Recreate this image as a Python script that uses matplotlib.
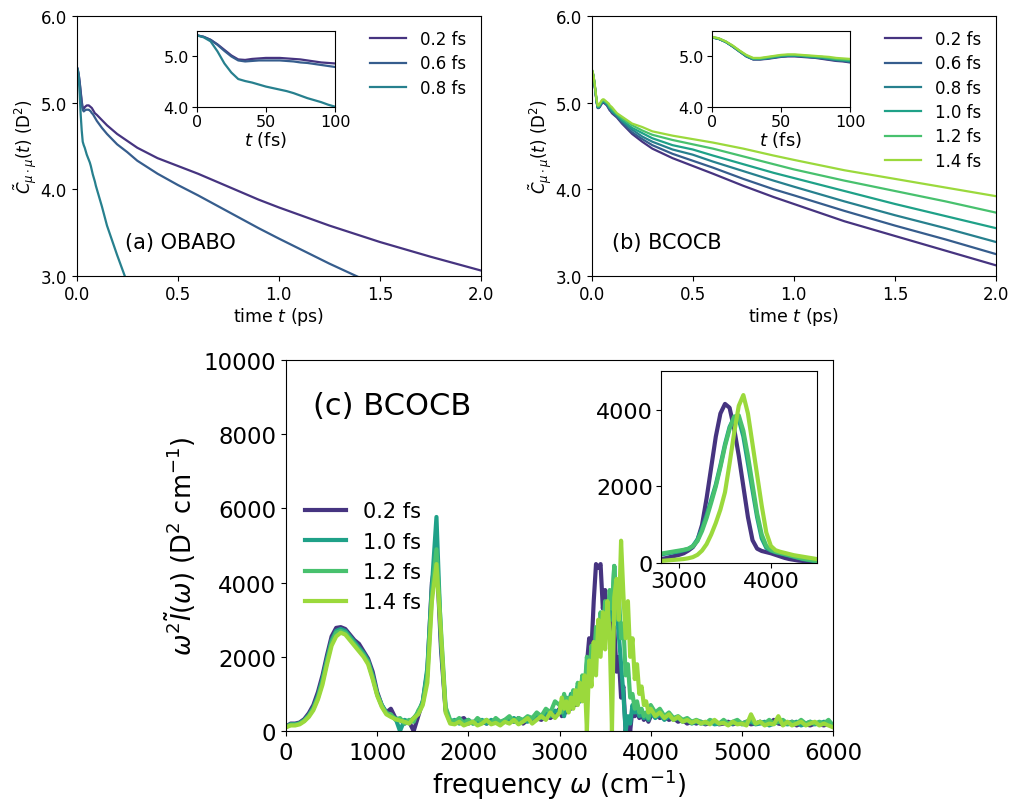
import matplotlib
matplotlib.use("Agg")
import matplotlib.pyplot as plt
import numpy as np

# time grid in fs (shared by main panels and insets)
t_fs = [0, 5, 10, 15, 20, 25, 30, 35, 40, 45, 50, 55, 60, 65, 70, 75, 80, 85, 90, 95, 100,
        125, 150, 200, 250, 300, 400, 500, 600, 750, 900, 1000, 1250, 1500, 1750, 2000]

# (a) OBABO
labels_a = ["0.2 fs", "0.6 fs", "0.8 fs"]
obabo_02 = [5.42, 5.39, 5.33, 5.24, 5.13, 5.02, 4.94, 4.93, 4.95, 4.96, 4.97, 4.97, 4.97,
            4.96, 4.95, 4.94, 4.92, 4.90, 4.88, 4.87, 4.86,
            4.80, 4.74, 4.64, 4.56, 4.48, 4.36, 4.27, 4.18, 4.03, 3.88, 3.79, 3.58, 3.39, 3.22, 3.06]
obabo_06 = [5.42, 5.39, 5.33, 5.23, 5.11, 5.00, 4.92, 4.90, 4.91, 4.92, 4.92, 4.92, 4.92,
            4.91, 4.90, 4.88, 4.87, 4.85, 4.83, 4.81, 4.79,
            4.71, 4.64, 4.52, 4.43, 4.33, 4.18, 4.05, 3.93, 3.74, 3.55, 3.43, 3.14, 2.87, 2.60, 2.35]
obabo_08 = [5.42, 5.38, 5.30, 5.10, 4.86, 4.68, 4.55, 4.51, 4.48, 4.44, 4.40, 4.37, 4.34,
            4.31, 4.27, 4.22, 4.17, 4.13, 4.09, 4.04, 4.00,
            3.80, 3.58, 3.24, 2.92, 2.60, 2.00, 1.50, 1.00, 0.50, 0.20, 0.10, 0.05, 0.02, 0.01, 0.0]

# (b) BCOCB
labels_b = ["0.2 fs", "0.6 fs", "0.8 fs", "1.0 fs", "1.2 fs", "1.4 fs"]
bcocb_02 = [5.38, 5.35, 5.29, 5.20, 5.10, 5.00, 4.94, 4.94, 4.95, 4.97, 4.99, 5.00, 5.00,
            4.99, 4.98, 4.97, 4.95, 4.93, 4.91, 4.90, 4.88,
            4.83, 4.76, 4.64, 4.55, 4.47, 4.36, 4.27, 4.18, 4.04, 3.91, 3.83, 3.63, 3.46, 3.29, 3.12]
bcocb_06 = [5.38, 5.35, 5.29, 5.20, 5.10, 5.00, 4.94, 4.94, 4.96, 4.98, 5.00, 5.01, 5.01,
            5.00, 4.99, 4.98, 4.96, 4.94, 4.92, 4.91, 4.89,
            4.84, 4.77, 4.66, 4.58, 4.51, 4.41, 4.33, 4.25, 4.12, 4.00, 3.93, 3.75, 3.58, 3.42, 3.25]
bcocb_08 = [5.38, 5.35, 5.29, 5.20, 5.10, 5.01, 4.95, 4.95, 4.96, 4.98, 5.00, 5.01, 5.01,
            5.01, 4.99, 4.98, 4.97, 4.95, 4.93, 4.92, 4.90,
            4.85, 4.79, 4.69, 4.61, 4.55, 4.46, 4.40, 4.32, 4.21, 4.10, 4.03, 3.86, 3.70, 3.55, 3.39]
bcocb_10 = [5.38, 5.35, 5.29, 5.21, 5.11, 5.01, 4.95, 4.95, 4.97, 4.99, 5.01, 5.02, 5.02,
            5.01, 5.00, 4.99, 4.98, 4.96, 4.94, 4.93, 4.91,
            4.86, 4.80, 4.71, 4.65, 4.59, 4.51, 4.46, 4.39, 4.29, 4.19, 4.13, 3.98, 3.83, 3.69, 3.55]
bcocb_12 = [5.39, 5.36, 5.30, 5.21, 5.11, 5.02, 4.96, 4.96, 4.98, 5.00, 5.02, 5.03, 5.03,
            5.02, 5.01, 5.00, 4.99, 4.97, 4.95, 4.94, 4.93,
            4.87, 4.82, 4.74, 4.68, 4.63, 4.57, 4.52, 4.47, 4.38, 4.29, 4.23, 4.10, 3.98, 3.86, 3.73]
bcocb_14 = [5.39, 5.36, 5.30, 5.22, 5.12, 5.03, 4.97, 4.97, 4.99, 5.01, 5.03, 5.04, 5.04,
            5.03, 5.02, 5.01, 5.00, 4.99, 4.97, 4.96, 4.95,
            4.88, 4.84, 4.76, 4.72, 4.67, 4.62, 4.58, 4.54, 4.47, 4.39, 4.34, 4.22, 4.12, 4.02, 3.92]

# (c) spectra: 0-3000 step 50, 3000-4000 step 25, 4000-6000 step 50
freq = np.concatenate([np.arange(0, 3000, 50), np.arange(3000, 4000, 25), np.arange(4000, 6001, 50)])
labels_c = ["0.2 fs", "1.0 fs", "1.2 fs", "1.4 fs"]
spec_02 = [120, 200, 200, 230, 320, 480, 700, 1050, 1500, 2050, 2550, 2780, 2800, 2750, 2600,
           2450, 2350, 2150, 1950, 1600, 1050, 700, 500, 600, 350, 300, 200, 250, 0, 400,
           800, 1600, 4000, 4800, 2200, 550, 250, 200, 300, 350, 200, 250, 200, 250, 200,
           250, 300, 200, 250, 300, 250, 350, 200, 300, 250, 350, 300, 400, 350, 450,
           600, 400, 700, 500, 800, 600, 900, 700, 1000, 800, 1300, 1100, 1800, 2500, 2200,
           3500, 4500, 4400, 4500, 3300, 3800, 2600, 3100, 2200, 2800, 1600, 2000, 900, 1200, 0,
           300, 0, 600, 400, 500, 350, 450, 300, 400, 250,
           400, 500, 350, 400, 300, 350, 250, 300, 200, 250, 200, 250, 180, 220, 250, 180,
           200, 250, 180, 220, 200, 250, 180, 200, 250, 180, 200, 300, 200, 180, 200, 250,
           150, 200, 180, 150, 200, 180, 150, 200, 120]
spec_10 = [110, 180, 180, 210, 290, 430, 630, 950, 1400, 1950, 2450, 2700, 2750, 2700, 2550,
           2400, 2250, 2100, 1900, 1500, 1000, 700, 500, 400, 350, 0, 300, 250, 350, 500,
           800, 1700, 3900, 5770, 2400, 600, 250, 300, 200, 250, 300, 200, 250, 300, 200,
           300, 250, 200, 300, 250, 350, 250, 300, 250, 350, 400, 350, 500, 400, 550,
           500, 800, 400, 900, 600, 1000, 700, 900, 1200, 800, 1400, 1000, 1600, 1300, 2100,
           1800, 2600, 2200, 3000, 2500, 3200, 2700, 3600, 3000, 4450, 3400, 2600, 1800, 1000, 0,
           400, 200, 700, 500, 600, 400, 500, 350, 450, 300,
           500, 350, 450, 300, 400, 300, 350, 250, 300, 200, 250, 200, 220, 250, 180, 200,
           250, 180, 200, 250, 180, 200, 250, 180, 200, 250, 150, 200, 250, 200, 180, 200,
           250, 150, 200, 250, 180, 200, 250, 180, 150]
spec_12 = [110, 170, 170, 200, 280, 410, 600, 900, 1330, 1880, 2380, 2650, 2700, 2650, 2500,
           2350, 2200, 2050, 1850, 1450, 980, 680, 480, 450, 300, 350, 200, 300, 250, 550,
           750, 1500, 3700, 4900, 2700, 650, 300, 250, 350, 200, 300, 200, 350, 250, 300,
           200, 350, 250, 300, 400, 250, 350, 300, 400, 350, 500, 400, 600, 500, 800,
           700, 500, 1000, 600, 900, 700, 1100, 800, 1300, 900, 1500, 1100, 2000, 1400, 2300,
           1700, 2800, 2100, 3200, 2500, 3500, 2900, 3800, 3300, 4450, 3000, 3700, 2500, 2900, 1500,
           1800, 900, 1000, 600, 800, 500, 600, 400, 500, 350,
           700, 500, 600, 400, 500, 350, 400, 300, 350, 250, 300, 250, 200, 300, 250, 200,
           300, 200, 250, 300, 200, 250, 300, 200, 250, 200, 300, 200, 250, 300, 200, 250,
           200, 300, 200, 250, 200, 250, 200, 300, 150]
spec_14 = [100, 150, 150, 180, 260, 380, 560, 850, 1250, 1800, 2300, 2550, 2650, 2600, 2450,
           2300, 2150, 2000, 1800, 1400, 950, 650, 450, 380, 320, 280, 250, 200, 350, 450,
           700, 1300, 3500, 4500, 2600, 500, 200, 180, 250, 150, 200, 250, 150, 200, 300,
           180, 220, 150, 250, 200, 300, 180, 250, 350, 200, 300, 400, 300, 500, 350,
           500, 900, 600, 800, 500, 900, 600, 1100, 700, 1300, 800, 1500, 0, 1900, 1200,
           2400, 1500, 3000, 2000, 3200, 2200, 3500, 2600, 0, 3600, 4100, 3000, 5130, 3700, 2500,
           3500, 2000, 2500, 1400, 1800, 1000, 1200, 700, 800, 500,
           600, 400, 500, 350, 450, 300, 380, 250, 300, 220, 280, 200, 250, 180, 300, 200,
           220, 150, 250, 180, 200, 150, 450, 200, 250, 150, 200, 180, 400, 150, 250, 150,
           200, 250, 150, 200, 250, 150, 200, 150, 100]

# (c) inset: smoothed spectra, 2800-4500 step 50
freq_in = np.arange(2800, 4501, 50)
smooth_02 = [110, 130, 160, 190, 220, 260, 330, 420, 600, 1000, 1700, 2500, 3300, 3900, 4150,
             4050, 3500, 2800, 2000, 1200, 600, 380, 320, 290, 260, 220, 180, 140, 110, 90,
             70, 60, 50, 40, 30]
smooth_10 = [230, 250, 270, 290, 310, 340, 370, 450, 620, 900, 1250, 1650, 2050, 2550, 3100,
             3550, 3800, 3750, 3300, 2600, 1900, 1200, 650, 400, 330, 290, 260, 230, 200, 170,
             140, 110, 90, 70, 50]
smooth_12 = [250, 270, 290, 310, 330, 350, 380, 440, 580, 840, 1180, 1580, 2000, 2500, 3050,
             3500, 3820, 3850, 3450, 2800, 2050, 1300, 750, 450, 350, 300, 270, 240, 210, 180,
             150, 120, 100, 80, 60]
smooth_14 = [60, 70, 80, 90, 100, 110, 130, 160, 220, 330, 500, 750, 1050, 1400, 1850,
             2600, 3400, 4100, 4380, 3900, 3100, 2300, 1500, 800, 450, 340, 300, 270, 240, 210,
             190, 170, 150, 130, 110]

colors = plt.cm.viridis(np.linspace(0.15, 0.85, 6))
col_a = [colors[0], colors[1], colors[2]]
col_c = [colors[0], colors[3], colors[4], colors[5]]

fig = plt.figure(figsize=(10.1, 8.03), dpi=100)
t_ps = np.array(t_fs) / 1000.0
ylab_top = r'$\tilde{C}_{\mu\cdot\mu}(t)$ (D$^2$)'
fmt1 = matplotlib.ticker.FormatStrFormatter('%.1f')


def top_panel(rect, inset_rect, series, labels, cols, tag, tag_x):
    ax = fig.add_axes(rect)
    for y, lab, c in zip(series, labels, cols):
        ax.plot(t_ps, y, color=c, lw=1.6, label=lab)
    ax.set_xlim(0, 2.0)
    ax.set_ylim(3.0, 6.0)
    ax.set_xticks([0.0, 0.5, 1.0, 1.5, 2.0])
    ax.set_yticks([3.0, 4.0, 5.0, 6.0])
    ax.xaxis.set_major_formatter(fmt1)
    ax.yaxis.set_major_formatter(fmt1)
    ax.tick_params(labelsize=12)
    ax.set_xlabel('time $t$ (ps)', fontsize=12.5, labelpad=1)
    ax.set_ylabel(ylab_top, fontsize=12, labelpad=1)
    ax.text(tag_x, 0.13, tag, transform=ax.transAxes, fontsize=15, va='center')
    ax.legend(loc='upper right', frameon=False, fontsize=12, handlelength=2.2,
              labelspacing=0.38, bbox_to_anchor=(1.0, 1.005))

    ins = fig.add_axes(inset_rect)
    for y, c in zip(series, cols):
        ins.plot(t_fs, y, color=c, lw=1.6)
    ins.set_xlim(0, 100)
    ins.set_ylim(4.0, 5.5)
    ins.set_xticks([0, 50, 100])
    ins.set_yticks([4.0, 5.0])
    ins.yaxis.set_major_formatter(fmt1)
    ins.tick_params(labelsize=11.5, pad=2)
    ins.set_xlabel('$t$ (fs)', fontsize=13, labelpad=0)


top_panel([0.0759, 0.6554, 0.4003, 0.3230], [0.1948, 0.8659, 0.1369, 0.0939],
          [obabo_02, obabo_06, obabo_08], labels_a, col_a, '(a) OBABO', 0.12)
top_panel([0.5858, 0.6554, 0.4003, 0.3230], [0.7047, 0.8659, 0.1369, 0.0939],
          [bcocb_02, bcocb_06, bcocb_08, bcocb_10, bcocb_12, bcocb_14], labels_b,
          list(colors), '(b) BCOCB', 0.05)

# (c) spectra
axc = fig.add_axes([0.2832, 0.0884, 0.5416, 0.4620])
for y, lab, c in zip([spec_02, spec_10, spec_12, spec_14], labels_c, col_c):
    axc.plot(freq, y, color=c, lw=3, label=lab)
axc.set_xlim(0, 6000)
axc.set_ylim(0, 10000)
axc.set_xticks([0, 1000, 2000, 3000, 4000, 5000, 6000])
axc.set_yticks([0, 2000, 4000, 6000, 8000, 10000])
axc.tick_params(labelsize=16.5)
axc.set_xlabel(r'frequency $\omega$ (cm$^{-1}$)', fontsize=18.5, labelpad=2)
axc.set_ylabel(r'$\omega^2\tilde{I}(\omega)$ (D$^2$ cm$^{-1}$)', fontsize=18.5)
axc.text(0.05, 0.877, '(c) BCOCB', transform=axc.transAxes, fontsize=22, va='center')
axc.legend(loc='upper left', bbox_to_anchor=(0.0, 0.67), frameon=False, fontsize=15,
           handlelength=2.0)

insc = fig.add_axes([0.6542, 0.2973, 0.1545, 0.2391])
for y, c in zip([smooth_02, smooth_10, smooth_12, smooth_14], col_c):
    insc.plot(freq_in, y, color=c, lw=3)
insc.set_xlim(2800, 4500)
insc.set_ylim(0, 5000)
insc.set_xticks([3000, 4000])
insc.set_yticks([0, 2000, 4000])
insc.tick_params(labelsize=16, pad=2)

plt.savefig("out.png", dpi=100)
